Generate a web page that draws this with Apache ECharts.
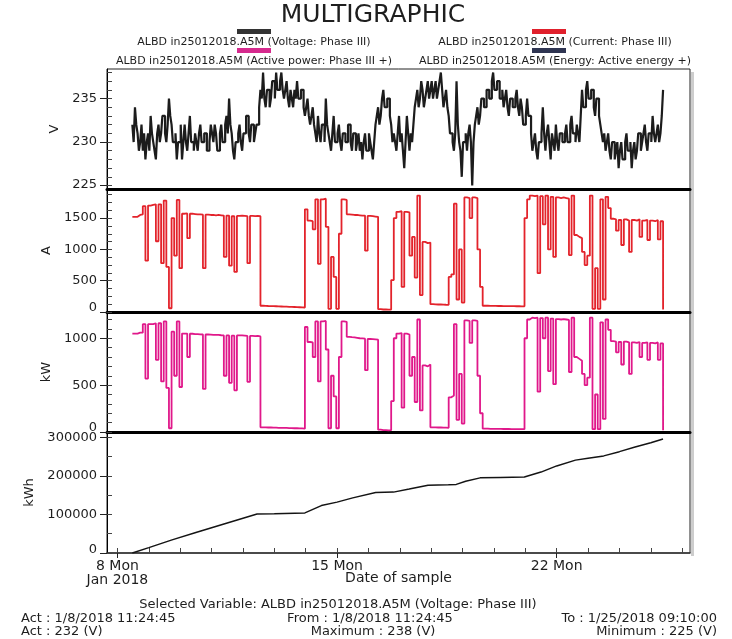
<!DOCTYPE html>
<html><head><meta charset="utf-8">
<script src="https://cdn.jsdelivr.net/npm/echarts@6/dist/echarts.min.js"></script>
<style>html,body{margin:0;padding:0;background:#fff}#c{width:732px;height:639px}</style>
</head><body><div id="c"></div>
<script>
// first sample 8 Jan 2018 11:24 (x in days of January)
const startDay = 8.475;
const voltageStepDays = 1 / 24;   // voltage read hourly
const stepDays = 2 / 24;          // current and power read every 2 hours

const voltage = [
232,230,234,232,231,229,230,232,229,231,228,230,231,229,233,231,230,229,228,231,
232,230,231,233,233,231,230,232,235,233,232,230,230,231,228,230,230,232,228,230,
232,230,229,231,233,230,230,229,231,230,229,231,232,230,230,231,231,229,229,230,
232,231,230,232,231,229,229,231,232,230,230,232,233,231,235,232,231,229,228,230,
230,231,232,230,229,231,231,233,233,231,230,232,232,230,231,232,232,234,236,235,
238,235,234,236,236,234,235,237,237,235,238,236,236,237,238,236,235,236,237,235,
234,236,235,234,236,235,237,235,235,236,236,234,233,234,235,233,232,233,234,232,
231,230,233,231,230,232,232,230,235,232,231,230,229,231,233,230,230,231,232,230,
229,231,231,230,230,232,232,230,229,231,231,229,230,231,229,230,228,230,231,229,
229,231,230,229,228,230,232,233,234,232,233,235,236,234,234,235,235,233,232,230,
231,230,229,231,233,230,231,229,227,230,233,231,229,231,230,232,234,235,236,234,
235,237,236,234,235,236,237,235,236,237,235,236,237,235,236,237,238,236,234,235,
236,234,233,231,231,230,229,231,237,232,230,229,226,230,230,231,229,231,232,230,
225,230,232,233,234,232,233,235,235,234,234,236,236,235,235,237,238,236,236,237,
237,235,235,236,234,235,236,234,233,235,235,234,234,235,236,234,233,235,234,232,
232,233,235,233,233,231,229,230,231,229,228,230,230,231,234,231,229,231,232,230,
228,231,230,229,232,230,229,231,231,230,230,231,232,230,230,232,233,231,231,230,
232,231,230,233,236,234,234,236,237,235,235,236,236,234,233,235,235,233,232,231,
230,231,229,230,231,229,228,230,230,228,229,230,227,229,230,228,228,230,231,229,
229,230,227,229,230,228,229,231,231,229,230,231,232,230,229,231,231,230,233,231,
230,231,232,230,231,233,236];

const current = [
1520,1520,1550,1560,1690,820,1700,1710,1720,1130,
1720,780,1780,720,60,1500,900,1790,700,1570,
1575,1180,1570,1565,1560,1560,1555,700,1555,1550,
1550,1545,1550,1545,1540,880,1540,740,1530,640,
1535,1540,1535,1530,780,1535,1530,1535,1530,100,
98,96,95,93,92,90,88,86,85,83,
82,80,78,76,74,72,1640,1460,1450,1320,
1800,770,1800,1810,1360,50,880,560,50,1250,
1800,1790,1560,1555,1550,1550,1545,1540,1540,980,
1535,1530,1525,1520,45,40,40,38,40,510,
1500,1600,1610,400,1600,1590,900,1200,550,1860,
270,1120,1100,1110,125,122,120,120,118,116,
115,560,600,1730,200,1000,150,1830,1820,1500,
1830,1820,1000,400,100,100,98,98,97,96,
96,95,95,94,94,93,92,92,91,90,
1500,1800,1860,1850,1860,620,1850,1400,1860,1000,
1840,880,1830,1820,1830,1820,1810,910,1860,1230,
1200,1180,960,750,900,1860,50,700,50,1800,
200,1840,1660,1490,1480,1300,1470,1070,1480,1460,
960,1470,1460,1480,1200,1460,1470,1150,1460,1450,
1470,1160,1450,40];

const power = [
1050,1050,1060,1060,1150,570,1150,1150,1160,770,
1160,540,1180,470,40,1070,600,1180,480,1050,
1050,800,1048,1045,1045,1042,1040,460,1040,1038,
1035,1035,1035,1032,1030,600,1030,525,1028,445,
1030,1030,1028,1025,535,1025,1022,1025,1020,50,
50,48,48,46,46,45,45,44,43,42,
42,40,40,38,38,36,1120,960,955,800,
1180,540,1180,1185,880,40,600,380,40,800,
1180,1175,1015,1012,1010,1005,1000,998,995,660,
992,990,988,985,25,20,20,18,20,330,
1000,1050,1055,260,1050,1040,600,800,320,1200,
230,710,700,720,50,50,48,48,46,46,
45,370,390,1150,130,620,90,1190,1185,950,
1190,1185,600,200,35,35,34,34,33,33,
33,32,32,32,31,31,30,30,30,30,
1000,1200,1220,1215,1220,430,1215,1000,1220,650,
1210,510,1205,1200,1205,1200,1195,640,1220,800,
780,760,620,500,580,1220,30,400,30,1170,
140,1200,1090,970,965,850,960,720,965,955,
620,955,950,960,800,950,955,770,950,945,
955,770,945,20];

const energyDays   = [8.475, 9.0, 9.74, 10.5, 11.5, 12.45, 13.0, 13.975, 14.5, 15.0, 15.5, 16.23, 16.8, 17.3, 17.9, 18.55, 18.8, 19.1, 19.56, 20.2, 20.97, 21.5, 22.0, 22.6, 23.0, 23.5, 24.0, 24.5, 25.0, 25.39];
const energyValues = [0, 14000, 34000, 53000, 78000, 101000, 102000, 104000, 123000, 132000, 143000, 157000, 158000, 166000, 176000, 177000, 178000, 186000, 195000, 196000, 197000, 210000, 226000, 241000, 246000, 252000, 263000, 275000, 286000, 296000];

const xTickDays  = [8,9,10,11,12,13,14,15,16,17,18,19,20,21,22,23,24,25,26];
const xLabelDays = [8, 15, 22];
const vLabels  = [225, 230, 235];
const vTicks   = [225,226,227,228,229,230,231,232,233,234,235,236,237,238];
const aLabels  = [0, 500, 1000, 1500];
const aTicks   = [0,125,250,375,500,625,750,875,1000,1125,1250,1375,1500,1625,1750,1875];
const kwLabels = [0, 500, 1000];
const kwTicks  = [0,100,200,300,400,500,600,700,800,900,1000,1100,1200];
const kwhLabels = [0, 100000, 200000, 300000];
const kwhTicks  = [0,50000,100000,150000,200000,250000,300000];

const legendNames = [
  'ALBD in25012018.A5M (Voltage: Phase III)',
  'ALBD in25012018.A5M (Current: Phase III)',
  'ALBD in25012018.A5M (Active power: Phase III +)',
  'ALBD in25012018.A5M (Energy: Active energy +)'
];
const legendColors = ['#333333', '#e0202c', '#d62a8e', '#2f3552'];

const FONT = '"DejaVu Sans", sans-serif';
const TXT = '#1e1e1e';
const xMin = 7.667, xMax = 26.25;

const toPts = (arr, step) => arr.map((v, i) => [startDay + i * step, v]);

function yPair(gi, min, max, labels, ticks, name, gap, shift) {
  return [
    { gridIndex: gi, type: 'value', min: min, max: max, position: 'left',
      name: name, nameLocation: 'middle', nameGap: gap, nameRotate: 90,
      nameTextStyle: { fontFamily: FONT, fontSize: 13, color: TXT },
      axisLine: { show: true, onZero: false, lineStyle: { color: '#000', width: 1 } },
      axisTick: { show: true, customValues: labels, length: 7, lineStyle: { color: '#222' } },
      axisLabel: { customValues: labels, margin: 10, fontFamily: FONT, fontSize: 13, color: TXT,
        formatter: v => (v === labels[0] ? '{lo|' + v + '}' : String(v)),
        rich: { lo: { fontFamily: FONT, fontSize: 13, color: TXT, padding: [0, 0, shift, 0] } } },
      splitLine: { show: false } },
    { gridIndex: gi, type: 'value', min: min, max: max, position: 'left',
      axisLine: { show: false, onZero: false }, axisLabel: { show: false },
      axisTick: { show: true, inside: true, customValues: ticks, length: 5, lineStyle: { color: '#444' } },
      splitLine: { show: false } }
  ];
}
function xSep(gi) {
  return { gridIndex: gi, type: 'value', min: xMin, max: xMax, position: 'bottom',
    axisLine: { show: true, onZero: false, lineStyle: { color: '#000', width: 3 } },
    axisTick: { show: false }, axisLabel: { show: false }, splitLine: { show: false } };
}

const gridBase = { left: 107, right: 42, show: true, borderColor: '#222', borderWidth: 1, containLabel: false };

const texts = [];
function txt(x, y, s, size, align) {
  texts.push({ type: 'text', x: x, y: y, silent: true,
    style: { text: s, font: size + 'px "DejaVu Sans", sans-serif', fill: TXT,
      align: align, textAlign: align, verticalAlign: 'middle', textVerticalAlign: 'middle' } });
}
txt(373, 15, 'MULTIGRAPHIC', 25, 'center');
const legX = [254, 549], legSwY = [29, 48], legTxY = [42, 61];
legendNames.forEach((n, k) => {
  const col = k % 2, row = Math.floor(k / 2);
  texts.push({ type: 'rect', silent: true, shape: { x: legX[col] - 17, y: legSwY[row], width: 34, height: 5 },
    style: { fill: legendColors[k] } });
  txt(legX[col] + (col ? 6 : 0), legTxY[row], n, 11, 'center');
});
txt(338, 605, 'Selected Variable: ALBD in25012018.A5M (Voltage: Phase III)', 13, 'center');
txt(21, 619, 'Act : 1/8/2018 11:24:45', 13, 'left');
txt(370, 619, 'From : 1/8/2018 11:24:45', 13, 'center');
txt(717, 619, 'To : 1/25/2018 09:10:00', 13, 'right');
txt(21, 632, 'Act : 232 (V)', 13, 'left');
txt(373, 632, 'Maximum : 238 (V)', 13, 'center');
txt(717, 632, 'Minimum : 225 (V)', 13, 'right');
texts.push({ type: 'rect', silent: true, shape: { x: 691, y: 72, width: 3, height: 484 }, style: { fill: '#cdcdcd' } });

const lineSeries = (name, data, xi, yi, color, step, w) => ({
  name: name, type: 'line', data: data, xAxisIndex: xi, yAxisIndex: yi,
  step: step ? 'end' : false, showSymbol: false, symbol: 'none', animation: false,
  lineStyle: { color: color, width: w }, itemStyle: { color: color }
});

const chart = echarts.init(document.getElementById('c'), null, { renderer: 'canvas' });
chart.setOption({
  animation: false,
  backgroundColor: '#ffffff',
  grid: [
    Object.assign({}, gridBase, { top: 69, height: 120 }),
    Object.assign({}, gridBase, { top: 189, height: 123 }),
    Object.assign({}, gridBase, { top: 312, height: 120 }),
    Object.assign({}, gridBase, { top: 432, height: 121 })
  ],
  xAxis: [
    xSep(0), xSep(1), xSep(2),
    { gridIndex: 3, type: 'value', min: xMin, max: xMax, position: 'bottom',
      name: 'Date of sample', nameLocation: 'middle', nameGap: 18, nameMoveOverlap: false,
      nameTextStyle: { fontFamily: FONT, fontSize: 14, color: TXT },
      axisLine: { show: true, onZero: false, lineStyle: { color: '#333', width: 1.5 } },
      axisTick: { show: true, inside: true, customValues: xTickDays, length: 5, lineStyle: { color: '#444' } },
      axisLabel: { customValues: xLabelDays, margin: 6, fontFamily: FONT, fontSize: 14, color: TXT, lineHeight: 14,
        formatter: v => (v === 8 ? '8 Mon\nJan 2018' : v + ' Mon') },
      splitLine: { show: false } },
    { gridIndex: 3, type: 'value', min: xMin, max: xMax, position: 'bottom',
      axisLine: { show: false, onZero: false }, axisLabel: { show: false },
      axisTick: { show: true, inside: false, customValues: xLabelDays, length: 5, lineStyle: { color: '#222' } },
      splitLine: { show: false } }
  ],
  yAxis: [].concat(
    yPair(0, 224.6, 238.4, vLabels, vTicks, 'V', 26, 2),
    yPair(1, 0, 1965, aLabels, aTicks, 'A', 26, 8),
    yPair(2, 0, 1280, kwLabels, kwTicks, 'kW', 26, 8),
    yPair(3, 0, 314000, kwhLabels, kwhTicks, 'kWh', 70, 6)
  ),
  series: [
    lineSeries(legendNames[0], toPts(voltage, voltageStepDays), 0, 0, '#1c1c1c', true, 2.2),
    lineSeries(legendNames[1], toPts(current, stepDays), 1, 2, '#e3232b', true, 1.8),
    lineSeries(legendNames[2], toPts(power, stepDays), 2, 4, '#e0188a', true, 1.8),
    lineSeries(legendNames[3], energyDays.map((d, i) => [d, energyValues[i]]), 3, 6, '#141414', false, 1.5)
  ],
  graphic: texts
});
</script>
</body></html>
